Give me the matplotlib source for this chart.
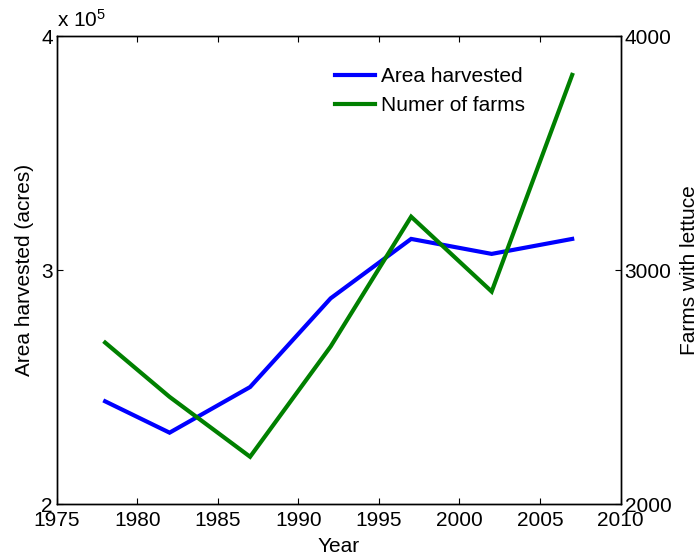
from matplotlib import pyplot as plt
from matplotlib import ticker

# census years and the two series
years = [1978, 1982, 1987, 1992, 1997, 2002, 2007]
area_acres = [244000, 230600, 250100, 288000, 313400, 307000, 313400]
farms = [2691, 2459, 2203, 2674, 3229, 2909, 3835]

xticks = [1975, 1980, 1985, 1990, 1995, 2000, 2005, 2010]
area_ticks = [2e5, 3e5, 4e5]
farm_ticks = [2000, 3000, 4000]

plt.rcParams['font.family'] = ['Liberation Sans', 'DejaVu Sans']
plt.rcParams['mathtext.fontset'] = 'custom'
plt.rcParams['mathtext.rm'] = 'Liberation Sans'
plt.rcParams['mathtext.it'] = 'Liberation Sans'
fs = 15

fig = plt.figure(figsize=(6.99, 5.59), dpi=100)
ax1 = fig.add_axes([0.0813, 0.0979, 0.8064, 0.8372])
ax2 = ax1.twinx()

l1, = ax1.plot(years, area_acres, color=(0, 0, 1), lw=3, solid_joinstyle='miter')
l2, = ax2.plot(years, farms, color=(0, 0.5, 0), lw=3, solid_joinstyle='miter')

ax1.set_xlim(1975, 2010)
ax1.set_ylim(2e5, 4e5)
ax2.set_ylim(2000, 4000)

ax1.set_xticks(xticks)
ax1.set_yticks(area_ticks)
ax2.set_yticks(farm_ticks)

# left axis shown in units of 1e5, the multiplier goes on top
ax1.yaxis.set_major_formatter(ticker.FuncFormatter(lambda v, pos: '{0:g}'.format(v / 1e5)))
ax1.text(0.0, 1.012, r'x 10$^{5}$', transform=ax1.transAxes, fontsize=fs,
         ha='left', va='bottom')

ax1.tick_params(axis='x', direction='in', length=4, width=0.8, top=True,
                labelsize=fs, pad=5)
ax1.tick_params(axis='y', direction='in', length=4, width=0.8, right=False,
                labelsize=fs, pad=3)
ax2.tick_params(axis='y', direction='in', length=4, width=0.8,
                labelsize=fs, pad=3)

for ax in (ax1, ax2):
    for s in ax.spines.values():
        s.set_linewidth(1.0)

ax1.set_xlabel('Year', fontsize=fs)
ax1.set_ylabel('Area harvested (acres)', fontsize=fs)
ax2.set_ylabel('Farms with lettuce', fontsize=fs)
ax1.xaxis.set_label_coords(0.5, -0.069)
ax1.yaxis.set_label_coords(-0.040, 0.5)
ax2.yaxis.set_label_coords(1.1055, 0.5)

ax2.legend([l1, l2], ['Area harvested', 'Numer of farms'], fontsize=fs,
           frameon=False, loc='upper left',
           bbox_to_anchor=(335 / 699, 1 - 67 / 559), bbox_transform=fig.transFigure,
           borderpad=0, borderaxespad=0, handlelength=1.9, handletextpad=0.3,
           labelspacing=0.47)

fig.savefig('out.png', dpi=100)
